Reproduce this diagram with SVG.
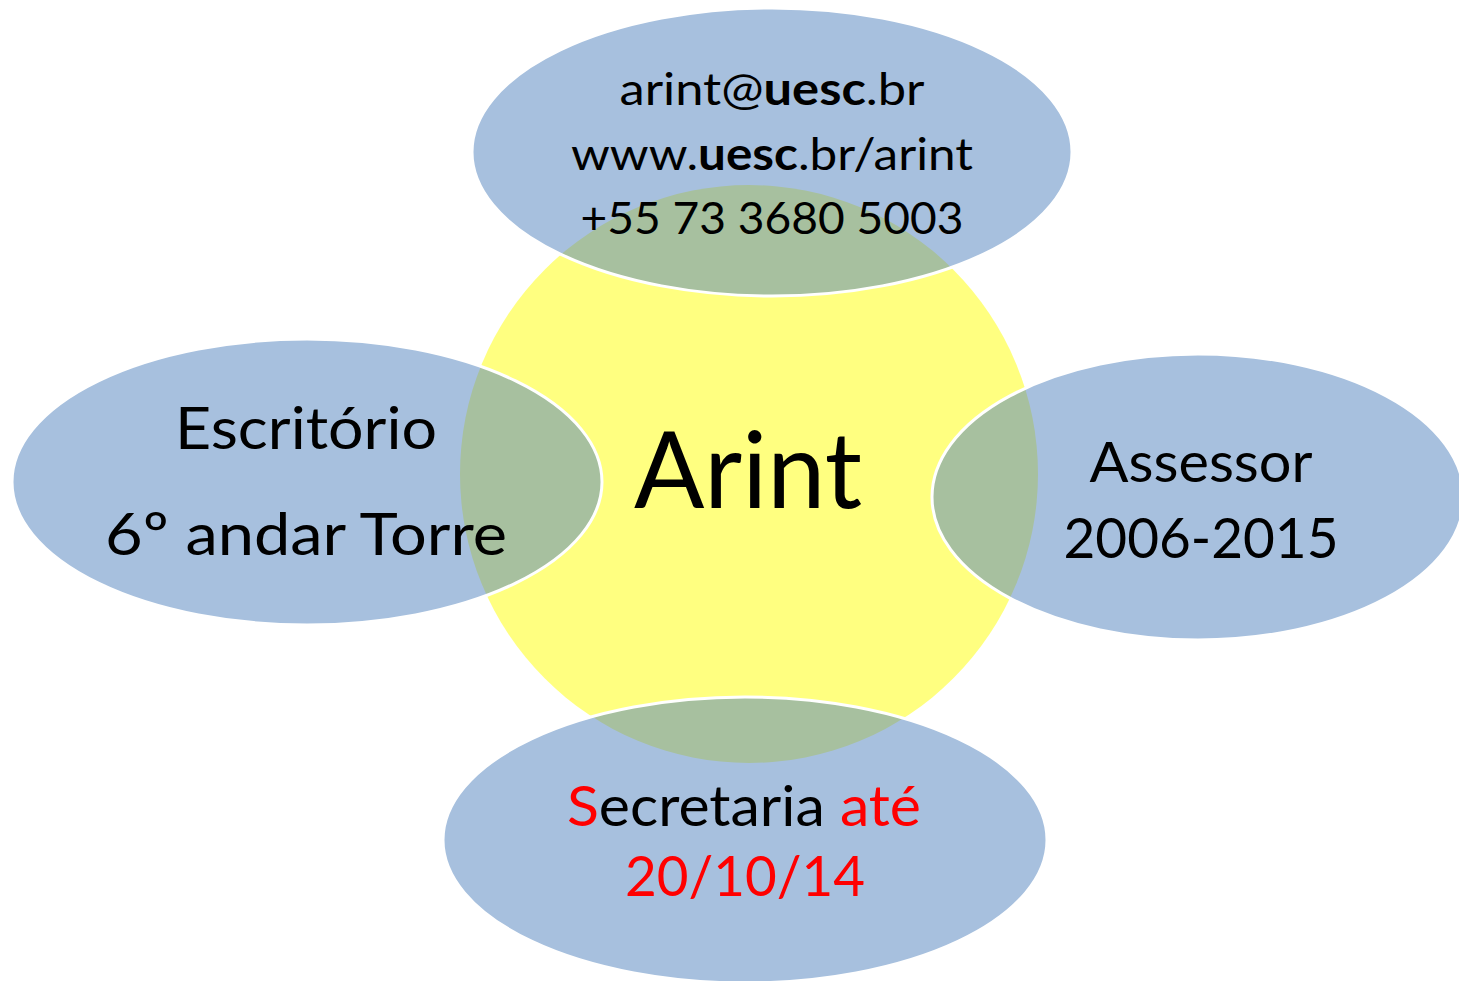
<svg xmlns="http://www.w3.org/2000/svg" width="1459" height="981" viewBox="0 0 1459 981">
<style>
.bub{fill:#4f81bd;fill-opacity:0.5;stroke:#ffffff;stroke-width:3}
.t{font-family:Lato,"Open Sans","Liberation Sans",sans-serif;fill:#000000;text-anchor:middle}
.red{fill:#ff0000}
.b{font-weight:bold}
</style>
<rect width="1459" height="981" fill="#ffffff"/>
<g id="connectors"/>
<g id="node-center">
<circle cx="749" cy="474" r="289" fill="#ffff80"/>
</g>
<g id="node-top">
<ellipse class="bub" cx="772" cy="152" rx="300" ry="144"/>
<text class="t" x="772" y="105" font-size="45" textLength="305" lengthAdjust="spacingAndGlyphs">arint@<tspan class="b">uesc</tspan>.br</text>
<text class="t" x="772" y="170" font-size="45" textLength="402" lengthAdjust="spacingAndGlyphs">www.<tspan class="b">uesc</tspan>.br/arint</text>
<text class="t" x="772" y="234" font-size="45" textLength="383" lengthAdjust="spacingAndGlyphs">+55 73 3680 5003</text>
</g>
<g id="node-left">
<ellipse class="bub" cx="307" cy="482" rx="295" ry="143"/>
<text class="t" x="306" y="449" font-size="59" textLength="262" lengthAdjust="spacingAndGlyphs">Escritório</text>
<text class="t" x="306" y="555" font-size="59" textLength="402" lengthAdjust="spacingAndGlyphs">6º andar Torre</text>
</g>
<g id="node-right">
<ellipse class="bub" cx="1198" cy="497" rx="266" ry="143"/>
<text class="t" x="1201" y="482" font-size="57" textLength="223" lengthAdjust="spacingAndGlyphs">Assessor</text>
<text class="t" x="1201" y="558" font-size="57" textLength="275" lengthAdjust="spacingAndGlyphs">2006-2015</text>
</g>
<g id="node-bottom">
<ellipse class="bub" cx="745" cy="840" rx="302" ry="143"/>
<text class="t" x="744" y="826" font-size="56" textLength="354" lengthAdjust="spacingAndGlyphs"><tspan class="red">S</tspan>ecretaria <tspan class="red">até</tspan></text>
<text class="t red" x="745" y="896" font-size="56" textLength="240" lengthAdjust="spacingAndGlyphs">20/10/14</text>
</g>
<g id="node-center-label">
<text class="t" x="748" y="508" font-size="106" textLength="228" lengthAdjust="spacingAndGlyphs">Arint</text>
</g>
</svg>
